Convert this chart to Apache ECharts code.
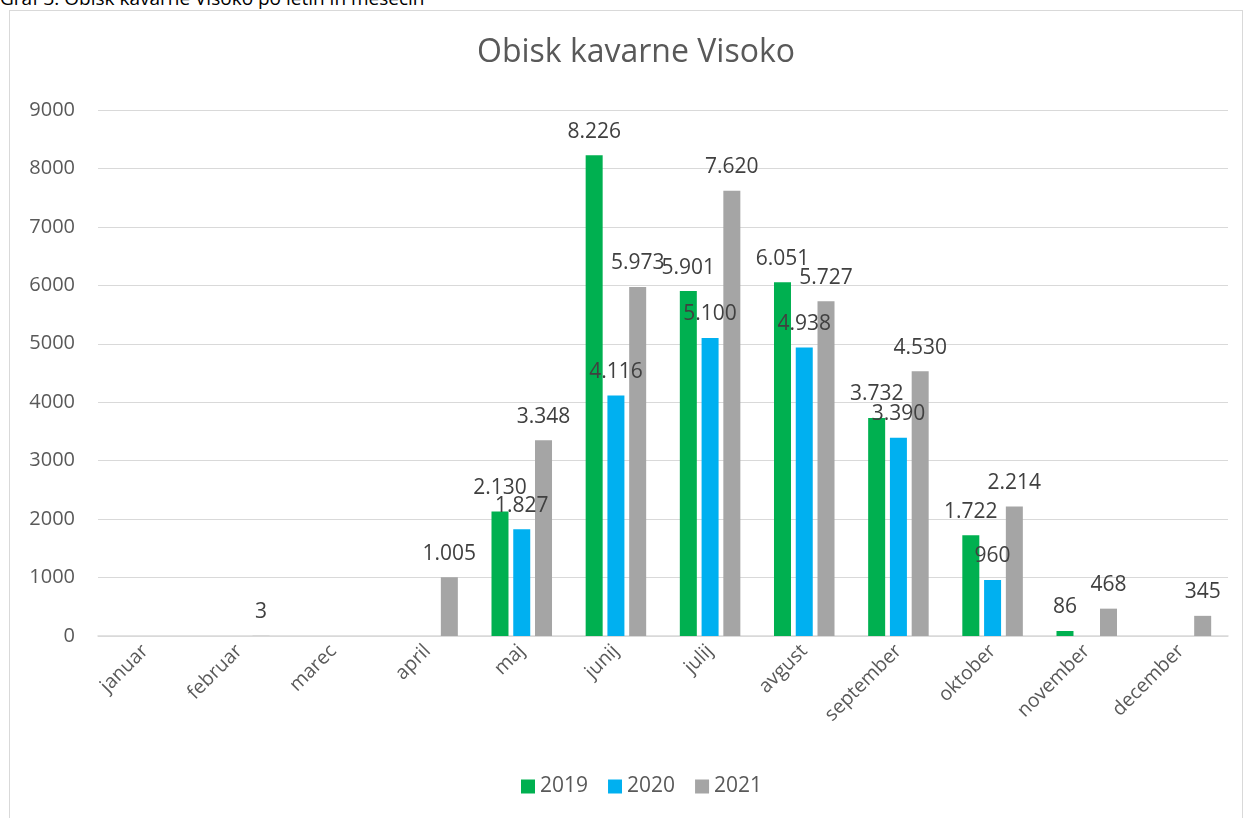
<!DOCTYPE html>
<html><head><meta charset="utf-8">
<script src="https://cdn.jsdelivr.net/npm/echarts@6/dist/echarts.min.js"></script>
<style>
html,body{margin:0;padding:0;width:1245px;height:818px;overflow:hidden;background:#fff;}
#cap{position:absolute;left:0;top:-15px;font-family:"Open Sans","Noto Sans",sans-serif;font-size:19px;color:#000;white-space:nowrap;}
#frame{position:absolute;left:9px;top:10px;width:1234px;height:820px;border:1.5px solid #d9d9d9;box-sizing:border-box;}
#chart{position:absolute;left:0;top:0;width:1245px;height:818px;}
</style></head>
<body>
<div id="cap">Graf 3: Obisk kavarne Visoko po letih in mesecih</div>
<div id="frame"></div>
<div id="chart"></div>
<script>
const categories = ['januar','februar','marec','april','maj','junij','julij','avgust','september','oktober','november','december'];
const s2019 = [null,null,null,null,2130,8226,5901,6051,3732,1722,86,null];
const s2020 = [null,null,null,null,1827,4116,5100,4938,3390,960,null,null];
const s2021 = [null,3,null,1005,3348,5973,7620,5727,4530,2214,468,345];
const seriesNames = ['2019','2020','2021'];
const colors = ['#00b050','#00b0f0','#a5a5a5'];
const yTicks = {min:0,max:9000,interval:1000};

const font = '"Open Sans", "Noto Sans", sans-serif';
function fmt(v){ return String(v).replace(/\B(?=(\d{3})+(?!\d))/g,'.'); }
const chart = echarts.init(document.getElementById('chart'));
const data = [s2019,s2020,s2021];
chart.setOption({
  animation:false,
  textStyle:{fontFamily:font},
  title:{text:'Obisk kavarne Visoko',left:472,top:32,textStyle:{fontFamily:font,fontSize:32,fontWeight:'normal',color:'#595959'}},
  legend:{bottom:16,left:516,itemWidth:14,itemHeight:14,itemGap:20,icon:'rect',textStyle:{fontFamily:font,fontSize:21,color:'#595959'},data:seriesNames},
  grid:{left:98,right:17,top:110,bottom:182,containLabel:false},
  xAxis:{type:'category',data:categories,axisTick:{show:false},axisLine:{lineStyle:{color:'#d9d9d9',width:1.5}},
    axisLabel:{rotate:45,fontSize:19.5,color:'#595959',margin:12,fontFamily:font}},
  yAxis:{type:'value',min:yTicks.min,max:yTicks.max,interval:yTicks.interval,axisLine:{show:false},axisTick:{show:false},
    splitLine:{lineStyle:{color:'#d9d9d9',width:1.2}},axisLabel:{fontSize:20,color:'#595959',margin:23,fontFamily:font,formatter:v=>String(v)}},
  series:data.map((d,i)=>({name:seriesNames[i],type:'bar',data:d,barWidth:17,barGap:'28%',
    itemStyle:{color:colors[i]},
    label:{show:true,position:'top',distance:13,fontSize:21,color:'#404040',fontFamily:font,formatter:p=>fmt(p.value)}}))
});
</script>
</body></html>
